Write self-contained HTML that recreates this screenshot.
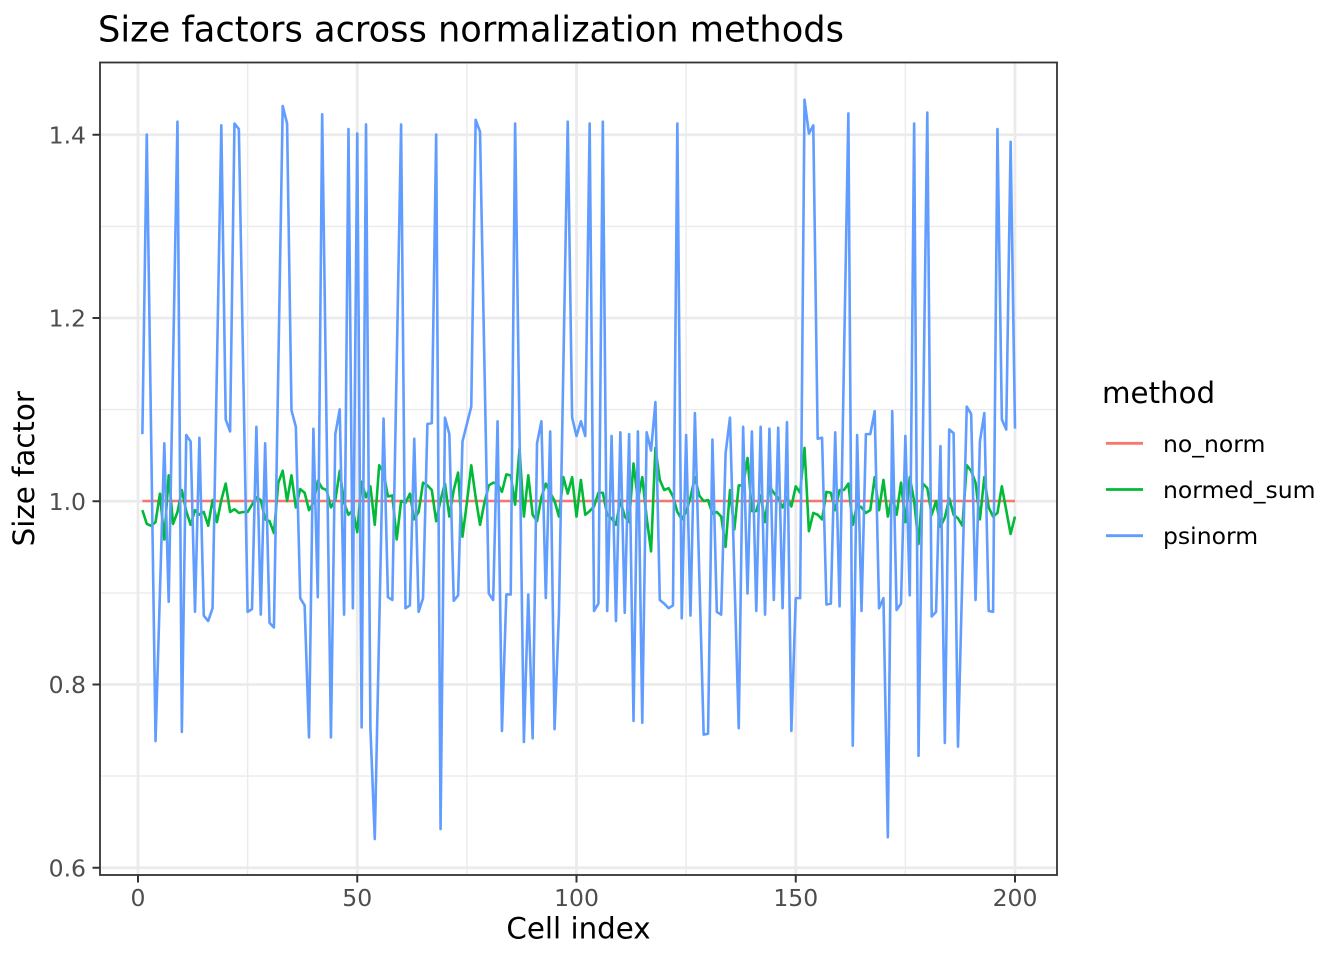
<!DOCTYPE html>
<html>
<head>
<meta charset="utf-8">
<style>
  html, body { margin: 0; padding: 0; background: #ffffff; }
  svg { display: block; }
  text { font-family: "DejaVu Sans", "Liberation Sans", sans-serif; }
</style>
</head>
<body>
<svg width="1344" height="960" viewBox="0 0 1344 960" xmlns="http://www.w3.org/2000/svg">
  <rect x="0" y="0" width="1344" height="960" fill="#ffffff"/>

  <!-- Title -->
  <text x="98" y="41.5" font-size="35.2" fill="#000000">Size factors across normalization methods</text>

  <!-- Panel background -->
  <rect x="100" y="62.5" width="957" height="812.5" fill="#ffffff"/>

  <!-- Minor gridlines -->
  <g stroke="#EBEBEB" stroke-width="1.4" fill="none">
    <line x1="247.6" y1="62.5" x2="247.6" y2="875"/>
    <line x1="466.9" y1="62.5" x2="466.9" y2="875"/>
    <line x1="686.1" y1="62.5" x2="686.1" y2="875"/>
    <line x1="905.4" y1="62.5" x2="905.4" y2="875"/>
    <line x1="100" y1="226.4" x2="1057" y2="226.4"/>
    <line x1="100" y1="409.6" x2="1057" y2="409.6"/>
    <line x1="100" y1="592.9" x2="1057" y2="592.9"/>
    <line x1="100" y1="776.1" x2="1057" y2="776.1"/>
  </g>
  <!-- Major gridlines -->
  <g stroke="#EBEBEB" stroke-width="2.8" fill="none">
    <line x1="138" y1="62.5" x2="138" y2="875"/>
    <line x1="357.25" y1="62.5" x2="357.25" y2="875"/>
    <line x1="576.5" y1="62.5" x2="576.5" y2="875"/>
    <line x1="795.75" y1="62.5" x2="795.75" y2="875"/>
    <line x1="1015" y1="62.5" x2="1015" y2="875"/>
    <line x1="100" y1="134.75" x2="1057" y2="134.75"/>
    <line x1="100" y1="318" x2="1057" y2="318"/>
    <line x1="100" y1="501.25" x2="1057" y2="501.25"/>
    <line x1="100" y1="684.5" x2="1057" y2="684.5"/>
    <line x1="100" y1="867.75" x2="1057" y2="867.75"/>
  </g>

  <!-- Data -->
  <g transform="matrix(4.385 0 0 -916.25 138 1417.25)" fill="none" stroke-linejoin="round" stroke-linecap="butt">
    <polyline vector-effect="non-scaling-stroke" stroke="#F8766D" stroke-width="2.6" points="1,1 200,1"/>
    <polyline vector-effect="non-scaling-stroke" stroke="#00BA38" stroke-width="2.6" points="1,0.990 2,0.975 3,0.973 4,0.977 5,1.008 6,0.958 7,1.028 8,0.975 9,0.988 10,1.012 11,0.989 12,0.974 13,0.990 14,0.985 15,0.988 16,0.973 17,1.001 18,0.977 19,1.001 20,1.019 21,0.988 22,0.991 23,0.987 24,0.988 25,0.988 26,0.996 27,1.004 28,1.001 29,0.980 30,0.978 31,0.965 32,1.020 33,1.033 34,1.000 35,1.028 36,0.993 37,1.013 38,1.009 39,0.990 40,0.998 41,1.022 42,1.014 43,1.012 44,0.993 45,1.001 46,1.033 47,0.998 48,0.985 49,0.990 50,0.966 51,1.021 52,1.004 53,1.016 54,0.974 55,1.039 56,1.031 57,1.005 58,1.006 59,0.958 60,1.000 61,0.998 62,1.008 63,0.980 64,0.988 65,1.020 66,1.017 67,1.012 68,0.978 69,1.001 70,1.019 71,0.983 72,1.012 73,1.031 74,0.961 75,0.998 76,1.039 77,1.004 78,0.974 79,0.998 80,1.017 81,1.020 82,1.019 83,1.010 84,1.029 85,1.028 86,0.996 87,1.057 88,0.983 89,1.028 90,0.985 91,0.978 92,1.004 93,1.019 94,1.009 95,1.000 96,0.983 97,1.026 98,1.008 99,1.026 100,0.983 101,1.023 102,0.985 103,0.989 104,0.994 105,1.009 106,1.009 107,0.985 108,0.981 109,0.974 110,1.001 111,0.983 112,0.977 113,1.041 114,1.001 115,1.026 116,0.982 117,0.945 118,1.058 119,1.023 120,1.012 121,1.014 122,1.005 123,0.988 124,0.980 125,0.988 126,1.004 127,1.026 128,1.006 129,1.000 130,1.001 131,0.986 132,0.988 133,0.983 134,0.950 135,1.012 136,0.969 137,1.017 138,1.017 139,1.047 140,0.989 141,0.989 142,1.006 143,0.977 144,1.016 145,1.009 146,1.003 147,0.993 148,1.004 149,0.994 150,1.016 151,1.009 152,1.058 153,0.967 154,0.987 155,0.985 156,0.980 157,1.010 158,1.009 159,0.990 160,1.012 161,1.012 162,1.019 163,0.974 164,0.996 165,0.993 166,0.987 167,0.990 168,1.026 169,0.990 170,1.023 171,0.983 172,1.006 173,0.985 174,1.020 175,0.977 176,1.026 177,1.000 178,0.953 179,1.019 180,1.014 181,0.985 182,1.000 183,0.972 184,0.982 185,1.003 186,0.985 187,0.981 188,0.973 189,1.039 190,1.033 191,1.020 192,0.980 193,1.026 194,0.993 195,0.983 196,0.987 197,1.016 198,0.990 199,0.964 200,0.983"/>
    <polyline vector-effect="non-scaling-stroke" stroke="#619CFF" stroke-width="2.6" points="1,1.073 2,1.400 3,1.069 4,0.738 5,0.900 6,1.063 7,0.890 8,1.152 9,1.414 10,0.748 11,1.072 12,1.065 13,0.879 14,1.069 15,0.875 16,0.869 17,0.883 18,1.146 19,1.410 20,1.089 21,1.076 22,1.412 23,1.406 24,1.142 25,0.879 26,0.882 27,1.081 28,0.876 29,1.063 30,0.867 31,0.862 32,1.146 33,1.431 34,1.412 35,1.099 36,1.081 37,0.894 38,0.886 39,0.742 40,1.079 41,0.895 42,1.422 43,1.082 44,0.742 45,1.073 46,1.100 47,0.876 48,1.406 49,0.883 50,1.401 51,0.753 52,1.411 53,0.752 54,0.631 55,0.860 56,1.090 57,0.895 58,0.892 59,1.150 60,1.411 61,0.883 62,0.886 63,1.068 64,0.879 65,0.894 66,1.084 67,1.085 68,1.400 69,0.642 70,1.091 71,1.073 72,0.891 73,0.897 74,1.065 75,1.084 76,1.103 77,1.416 78,1.403 79,1.150 80,0.899 81,0.892 82,1.087 83,0.749 84,0.898 85,0.898 86,1.412 87,1.075 88,0.737 89,0.898 90,0.741 91,1.063 92,1.087 93,0.894 94,1.076 95,0.751 96,0.878 97,1.146 98,1.414 99,1.091 100,1.071 101,1.087 102,1.071 103,1.412 104,0.880 105,0.888 106,1.414 107,0.880 108,1.071 109,0.869 110,1.075 111,0.878 112,1.073 113,0.760 114,1.076 115,0.758 116,1.075 117,1.055 118,1.108 119,0.892 120,0.888 121,0.883 122,0.886 123,1.412 124,0.872 125,1.072 126,0.875 127,1.096 128,0.920 129,0.745 130,0.746 131,1.067 132,0.879 133,0.876 134,1.052 135,1.091 136,0.920 137,0.752 138,1.081 139,0.899 140,1.076 141,0.880 142,1.081 143,0.876 144,1.079 145,0.892 146,1.080 147,0.883 148,1.086 149,0.749 150,0.894 151,0.894 152,1.438 153,1.401 154,1.410 155,1.068 156,1.069 157,0.887 158,0.888 159,1.075 160,0.885 161,1.154 162,1.423 163,0.733 164,1.072 165,0.880 166,1.073 167,1.073 168,1.098 169,0.883 170,0.894 171,0.633 172,1.098 173,0.881 174,0.888 175,1.071 176,0.897 177,1.412 178,0.722 179,1.073 180,1.424 181,0.874 182,0.879 183,1.060 184,0.736 185,1.078 186,1.074 187,0.732 188,0.920 189,1.103 190,1.095 191,0.892 192,1.065 193,1.096 194,0.880 195,0.879 196,1.406 197,1.089 198,1.078 199,1.392 200,1.079"/>
  </g>

  <!-- Panel border -->
  <rect x="100" y="62.5" width="957" height="812.5" fill="none" stroke="#333333" stroke-width="1.8"/>

  <!-- Y axis ticks -->
  <g stroke="#333333" stroke-width="2">
    <line x1="92.5" y1="134.75" x2="100" y2="134.75"/>
    <line x1="92.5" y1="318" x2="100" y2="318"/>
    <line x1="92.5" y1="501.25" x2="100" y2="501.25"/>
    <line x1="92.5" y1="684.5" x2="100" y2="684.5"/>
    <line x1="92.5" y1="867.75" x2="100" y2="867.75"/>
  </g>
  <g font-size="23.5" fill="#4D4D4D" text-anchor="end">
    <text x="86" y="143.3">1.4</text>
    <text x="86" y="326.6">1.2</text>
    <text x="86" y="509.8">1.0</text>
    <text x="86" y="693.1">0.8</text>
    <text x="86" y="876.3">0.6</text>
  </g>

  <!-- X axis ticks -->
  <g stroke="#333333" stroke-width="2">
    <line x1="138" y1="875" x2="138" y2="882.5"/>
    <line x1="357.25" y1="875" x2="357.25" y2="882.5"/>
    <line x1="576.5" y1="875" x2="576.5" y2="882.5"/>
    <line x1="795.75" y1="875" x2="795.75" y2="882.5"/>
    <line x1="1015" y1="875" x2="1015" y2="882.5"/>
  </g>
  <g font-size="23.5" fill="#4D4D4D" text-anchor="middle">
    <text x="138" y="906">0</text>
    <text x="357.25" y="906">50</text>
    <text x="576.5" y="906">100</text>
    <text x="795.75" y="906">150</text>
    <text x="1015" y="906">200</text>
  </g>

  <!-- Axis titles -->
  <text x="578.5" y="938.5" font-size="29.3" fill="#000000" text-anchor="middle">Cell index</text>
  <text transform="translate(34,468.75) rotate(-90)" font-size="29.3" fill="#000000" text-anchor="middle">Size factor</text>

  <!-- Legend -->
  <text x="1102" y="403" font-size="29.3" fill="#000000">method</text>
  <g stroke-width="2.8">
    <line x1="1106" y1="443.3" x2="1143" y2="443.3" stroke="#F8766D"/>
    <line x1="1106" y1="489.5" x2="1143" y2="489.5" stroke="#00BA38"/>
    <line x1="1106" y1="535.7" x2="1143" y2="535.7" stroke="#619CFF"/>
  </g>
  <g font-size="23.5" fill="#000000">
    <text x="1163" y="451.8">no_norm</text>
    <text x="1163" y="498">normed_sum</text>
    <text x="1163" y="544.2">psinorm</text>
  </g>
</svg>
</body>
</html>
